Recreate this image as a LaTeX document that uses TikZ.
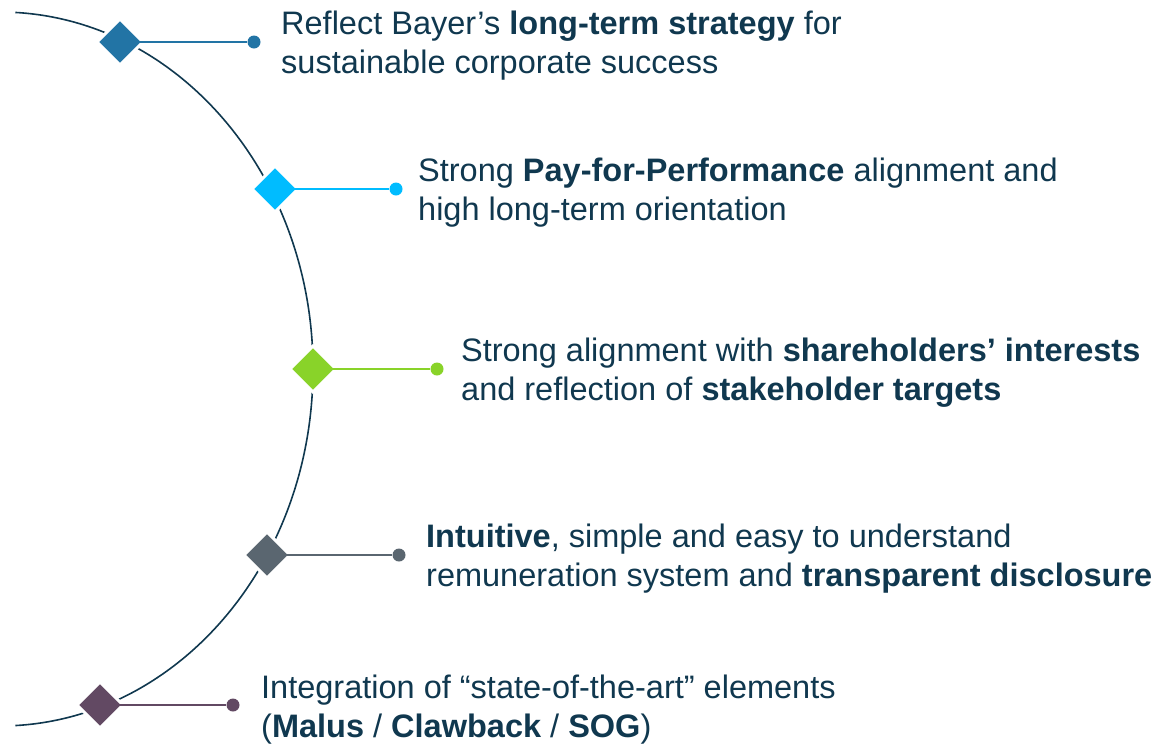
\documentclass[tikz,border=0pt]{standalone}
\usepackage{fontspec}
\setmainfont{Liberation Sans}
\usetikzlibrary{shapes.geometric}
\definecolor{bayerdark}{HTML}{10384F}
\definecolor{bayerblue}{HTML}{2274A5}
\definecolor{bayercyan}{HTML}{00BCFF}
\definecolor{bayergreen}{HTML}{89D329}
\definecolor{bayergrey}{HTML}{5A6670}
\definecolor{bayerpurple}{HTML}{624963}

\begin{document}
\begin{tikzpicture}[x=1pt,y=-1pt,
  gem/.style={draw=white,line width=3pt,shape=diamond,inner sep=0pt,outer sep=0pt,minimum size=46pt},
  dot/.style={shape=circle,inner sep=0pt,minimum size=13pt},
  txt/.style={anchor=west,align=left,inner sep=0pt,text=bayerdark,font=\fontsize{32.5}{39}\selectfont}]
\useasboundingbox (0,0) rectangle (1160,745);
\coordinate (o) at (0,369);
\draw[bayerdark,line width=1.6pt] ([shift={(87.2:313pt and 357pt)}]o) arc[start angle=87.2,end angle=-87.2,x radius=313pt,y radius=357pt];

\node (a) [gem,fill=bayerblue]   at (120,42)  {};
\node (b) [gem,fill=bayercyan]   at (275,189) {};
\node (c) [gem,fill=bayergreen]  at (313,369) {};
\node (d) [gem,fill=bayergrey]   at (267,555) {};
\node (e) [gem,fill=bayerpurple] at (100,705) {};

\node (a1) [dot,fill=bayerblue]   at (254,42)  {};
\node (b1) [dot,fill=bayercyan]   at (396,189) {};
\node (c1) [dot,fill=bayergreen]  at (437,369) {};
\node (d1) [dot,fill=bayergrey]   at (399,555) {};
\node (e1) [dot,fill=bayerpurple] at (233,705) {};

\draw[bayerblue,line width=1.8pt]   (a.center) -- (a1);
\draw[bayercyan,line width=1.8pt]   (b.center) -- (b1);
\draw[bayergreen,line width=1.8pt]  (c.center) -- (c1);
\draw[bayergrey,line width=1.8pt]   (d.center) -- (d1);
\draw[bayerpurple,line width=1.8pt] (e.center) -- (e1);

\node (ta) [txt] at (281,46)  {Reflect Bayer’s \textbf{long-term strategy} for\\sustainable corporate success};
\node (tb) [txt] at (418,193) {Strong \textbf{Pay-for-Performance} alignment and\\high long-term orientation};
\node (tc) [txt] at (461,373) {Strong alignment with \textbf{shareholders’ interests}\\and reflection of \textbf{stakeholder targets}};
\node (td) [txt] at (426,559) {\textbf{Intuitive}, simple and easy to understand\\remuneration system and \textbf{transparent disclosure}};
\node (te) [txt] at (261,710) {Integration of “state-of-the-art” elements\\(\textbf{Malus} / \textbf{Clawback} / \textbf{SOG})};
\end{tikzpicture}
\end{document}
